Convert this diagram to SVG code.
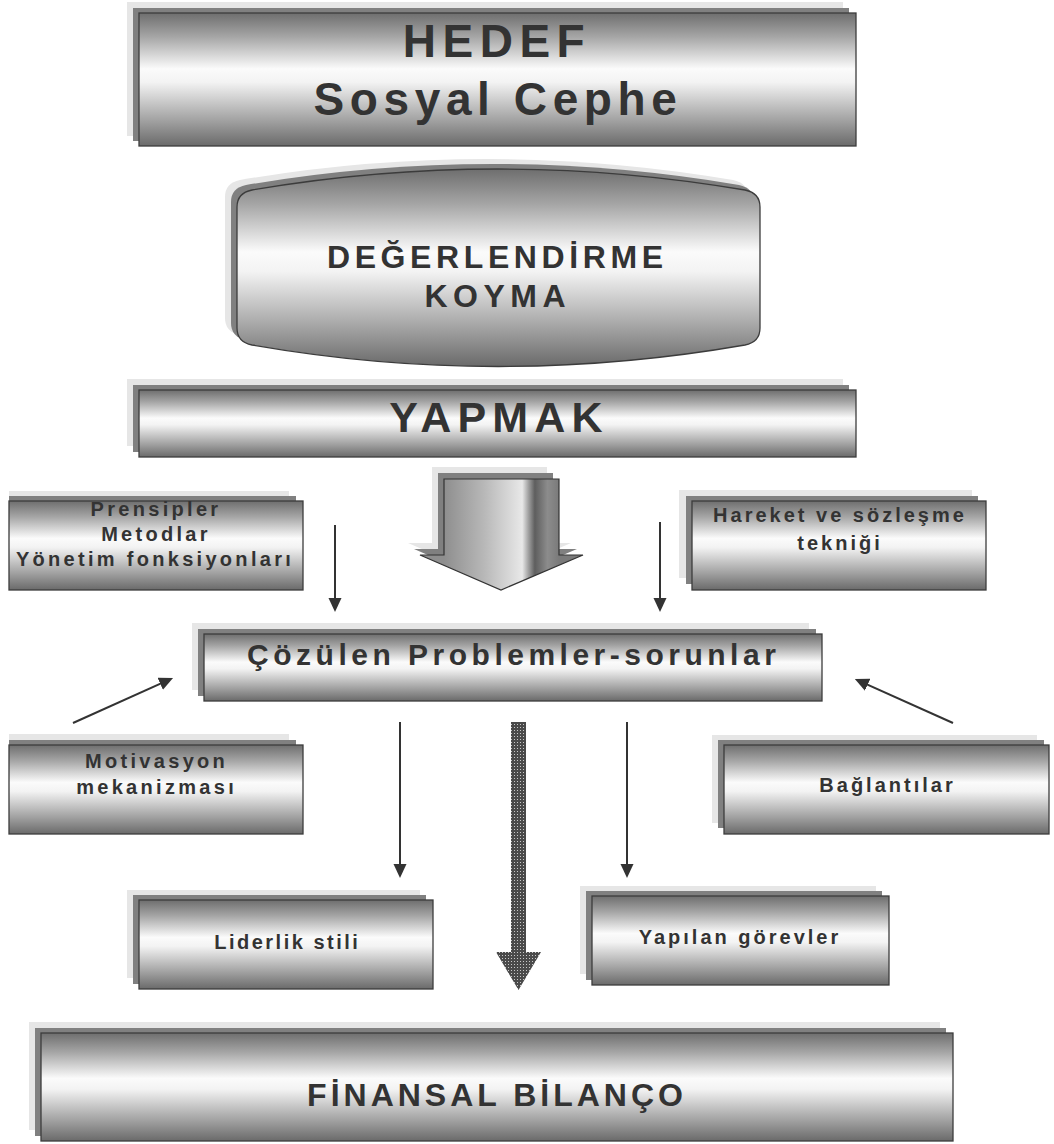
<svg xmlns="http://www.w3.org/2000/svg" width="1054" height="1144" viewBox="0 0 1054 1144">
<defs>
<linearGradient id="metal" x1="0" y1="0" x2="0" y2="1">
<stop offset="0" stop-color="#6e6e6e"/>
<stop offset="0.18" stop-color="#a6a6a6"/>
<stop offset="0.42" stop-color="#fbfbfb"/>
<stop offset="0.52" stop-color="#f3f3f3"/>
<stop offset="0.8" stop-color="#a4a4a4"/>
<stop offset="1" stop-color="#6a6a6a"/>
</linearGradient>
<linearGradient id="arrowg" gradientUnits="userSpaceOnUse" x1="444" y1="0" x2="559" y2="0">
<stop offset="0" stop-color="#8e8e8e"/>
<stop offset="0.35" stop-color="#b8b8b8"/>
<stop offset="0.68" stop-color="#e8e8e8"/>
<stop offset="0.74" stop-color="#9a9a9a"/>
<stop offset="0.79" stop-color="#5e5e5e"/>
<stop offset="0.9" stop-color="#8c8c8c"/>
<stop offset="1" stop-color="#7a7a7a"/>
</linearGradient>
<pattern id="dots" patternUnits="userSpaceOnUse" width="3" height="3">
<rect width="3" height="3" fill="#4a4a4a"/>
<rect x="1" y="1" width="1" height="1" fill="#c8c8c8"/>
</pattern>
<path id="barrel" d="M237,207 Q237,193 252,190 Q498,148 745,190 Q760,193 760,207 L760,328 Q760,342 745,345 Q498,388 252,345 Q237,342 237,328 Z"/>
<path id="bigarrow" d="M444,479 L559,479 L559,555 L583,555 L501,590 L420,555 L444,555 Z"/>
<marker id="ah" markerUnits="userSpaceOnUse" markerWidth="16" markerHeight="14" refX="10" refY="6.5" orient="auto">
<path d="M0,0 L14,6.5 L0,13 Z" fill="#333"/>
</marker>
<style>
.sh1{fill:#e6e6e6}
.sh2{fill:#808080}
.box{fill:url(#metal);stroke:#3c3c3c;stroke-width:1.3}
.t{font-family:"Liberation Sans",Arial,sans-serif;font-weight:bold;fill:#333;text-anchor:middle}
.s20{font-size:20px;letter-spacing:3px}
.conn{stroke:#333;stroke-width:2;fill:none;marker-end:url(#ah)}
</style>
</defs>
<rect width="1054" height="1144" fill="#fff"/>

<g id="hedef">
<rect class="sh1" x="127" y="2" width="716" height="134"/>
<rect class="sh2" x="133" y="8" width="716" height="133"/>
<rect class="box" x="139" y="13" width="717" height="133"/>
<text class="t" style="font-size:46px;letter-spacing:6.5px" x="497" y="57">HEDEF</text>
<text class="t" style="font-size:46px;letter-spacing:5.6px" x="498" y="115">Sosyal Cephe</text>
</g>

<g id="degerlendirme">
<use href="#barrel" class="sh1" transform="translate(-12,-10)"/>
<use href="#barrel" class="sh2" transform="translate(-6,-5)"/>
<use href="#barrel" class="box"/>
<text class="t" style="font-size:32px;letter-spacing:4.6px" x="497.3" y="268">DEĞERLENDİRME</text>
<text class="t" style="font-size:32px;letter-spacing:5.5px" x="497.7" y="307">KOYMA</text>
</g>

<g id="yapmak">
<rect class="sh1" x="127" y="379" width="716" height="67"/>
<rect class="sh2" x="133" y="385" width="716" height="67"/>
<rect class="box" x="139" y="390" width="717" height="67"/>
<text class="t" style="font-size:43px;letter-spacing:6.2px" x="499" y="432">YAPMAK</text>
</g>

<g id="buyuk-ok">
<use href="#bigarrow" class="sh1" transform="translate(-12,-12)"/>
<use href="#bigarrow" class="sh2" transform="translate(-6,-6)"/>
<use href="#bigarrow" fill="url(#arrowg)" stroke="#333" stroke-width="1.2"/>
</g>

<g id="prensipler">
<rect class="sh1" x="9" y="491" width="280" height="88"/>
<rect class="sh2" x="9" y="496" width="287" height="88"/>
<rect class="box" x="9" y="501" width="294" height="89"/>
<text class="t s20" style="letter-spacing:3.3px" x="156" y="516">Prensipler</text>
<text class="t s20" style="letter-spacing:3.3px" x="156" y="541">Metodlar</text>
<text class="t s20" style="letter-spacing:3.3px" x="155" y="566">Yönetim fonksiyonları</text>
</g>

<g id="hareket">
<rect class="sh1" x="679" y="490" width="293" height="88"/>
<rect class="sh2" x="686" y="496" width="292" height="88"/>
<rect class="box" x="692" y="501" width="294" height="89"/>
<text class="t s20" x="840" y="522">Hareket ve sözleşme</text>
<text class="t s20" x="840" y="550">tekniği</text>
</g>

<g id="cozulen">
<rect class="sh1" x="192" y="623" width="617" height="67"/>
<rect class="sh2" x="198" y="629" width="618" height="67"/>
<rect class="box" x="204" y="634" width="618" height="67"/>
<text class="t" style="font-size:30px;letter-spacing:4.5px" x="513.7" y="665">Çözülen Problemler-sorunlar</text>
</g>

<g id="motivasyon">
<rect class="sh1" x="9" y="734" width="280" height="88"/>
<rect class="sh2" x="9" y="740" width="287" height="88"/>
<rect class="box" x="9" y="745" width="294" height="89"/>
<text class="t s20" style="letter-spacing:3.3px" x="156.6" y="768">Motivasyon</text>
<text class="t s20" style="letter-spacing:3.3px" x="156.6" y="794">mekanizması</text>
</g>

<g id="baglantilar">
<rect class="sh1" x="712" y="735" width="325" height="88"/>
<rect class="sh2" x="718" y="740" width="326" height="88"/>
<rect class="box" x="724" y="745" width="325" height="89"/>
<text class="t s20" x="887.5" y="792">Bağlantılar</text>
</g>

<g id="liderlik">
<rect class="sh1" x="127" y="890" width="293" height="88"/>
<rect class="sh2" x="133" y="895" width="293" height="89"/>
<rect class="box" x="139" y="900" width="294" height="89"/>
<text class="t s20" style="letter-spacing:2.5px" x="287.3" y="949">Liderlik stili</text>
</g>

<g id="yapilan">
<rect class="sh1" x="580" y="886" width="296" height="88"/>
<rect class="sh2" x="586" y="891" width="296" height="89"/>
<rect class="box" x="592" y="896" width="297" height="89"/>
<text class="t s20" x="740" y="944">Yapılan görevler</text>
</g>

<g id="finansal">
<rect class="sh1" x="29" y="1022" width="911" height="108"/>
<rect class="sh2" x="35" y="1028" width="911" height="108"/>
<rect class="box" x="41" y="1033" width="912" height="108"/>
<text class="t" style="font-size:32px;letter-spacing:4px" x="497" y="1106">FİNANSAL BİLANÇO</text>
</g>

<g id="connectors">
<line class="conn" x1="335" y1="525" x2="335" y2="608"/>
<line class="conn" x1="660" y1="522" x2="660" y2="608"/>
<line class="conn" x1="73" y1="723" x2="169.4" y2="679.7"/>
<line class="conn" x1="953" y1="723" x2="858.5" y2="680.7"/>
<line class="conn" x1="400" y1="722" x2="400" y2="874"/>
<line class="conn" x1="627" y1="722" x2="627" y2="874"/>
<path id="dotted-arrow" d="M511,722 L526,722 L526,952 L541,952 L518.5,990 L496,952 L511,952 Z" fill="url(#dots)"/>
</g>
</svg>
